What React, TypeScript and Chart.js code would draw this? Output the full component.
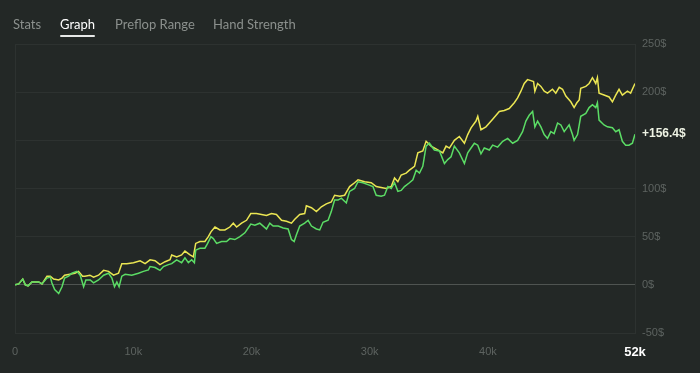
import { useEffect, useRef } from 'react';
import { Chart, registerables } from 'chart.js';

Chart.register(...registerables);

// hands played, in thousands
const greenHands = [0, 0.31, 0.65, 0.87, 1.10, 1.43, 2.00, 2.28, 2.70, 2.98, 3.12, 3.35, 3.69, 3.97, 4.19, 4.53, 4.81, 5.23, 5.51, 5.80, 5.99, 6.36, 6.64, 7.06, 7.49, 7.91, 8.19, 8.41, 8.61, 8.80, 9.03, 9.31, 9.87, 10.44, 10.86, 11.28, 11.42, 11.84, 12.26, 12.55, 12.97, 13.25, 13.67, 14.09, 14.37, 14.66, 14.94, 15.17, 15.28, 15.64, 16.06, 16.29, 16.57, 16.77, 17.05, 17.47, 17.89, 18.17, 18.59, 19.02, 19.44, 19.72, 19.94, 20.28, 20.70, 20.99, 21.27, 21.55, 21.83, 22.26, 22.68, 23.10, 23.38, 23.61, 23.80, 24.08, 24.50, 24.79, 25.07, 25.49, 25.77, 26.05, 26.48, 26.75, 27.03, 27.32, 27.60, 28.02, 28.30, 28.72, 29.01, 29.43, 29.85, 30.27, 30.55, 30.97, 31.25, 31.54, 31.82, 32.10, 32.38, 32.66, 32.94, 33.36, 33.65, 33.93, 34.21, 34.49, 34.77, 35.05, 35.47, 35.90, 36.32, 36.60, 36.88, 37.16, 37.58, 38.01, 38.29, 38.57, 38.85, 39.14, 39.41, 39.69, 40.12, 40.40, 40.82, 41.25, 41.67, 42.09, 42.51, 42.93, 43.21, 43.49, 43.78, 43.97, 44.20, 44.48, 44.76, 45.04, 45.32, 45.60, 45.89, 46.17, 46.45, 46.87, 47.15, 47.29, 47.58, 47.85, 48.28, 48.56, 48.84, 49.12, 49.26, 49.40, 49.82, 50.11, 50.53, 50.81, 51.09, 51.37, 51.65, 51.93, 52.22, 52.44];
const greenProfit = [0, 1, 6, 0, -1, 3, 3, 1, 7, 8, 2, -5, -9, -2, 7, 9, 12, 14, 10, -2, 5, 5, 2, 5, 10, 12, 7, -2, 3, -2, 9, 11, 10, 12, 14, 15.5, 19, 18, 15, 19, 21, 22, 26, 23, 28, 23, 26, 23, 36, 38, 38, 43, 50, 48, 43, 45, 45, 48, 47, 50, 54, 59, 63, 62, 64, 61, 58, 64, 61, 61, 59, 58, 47, 45, 52, 61, 64, 67, 61, 58, 57, 65, 67, 76, 88, 88, 90, 85, 97, 100, 107, 106, 104, 102, 93, 92, 93, 102, 100, 106, 97, 98, 102, 106, 109, 119, 116, 123, 144, 147, 140, 139, 126, 130, 133, 144, 137, 126, 137, 142, 147, 145, 136, 142, 140, 145, 143, 149, 152, 147, 150, 159, 170, 176, 180, 164, 170, 164, 156, 152, 159, 157, 168, 166, 159, 166, 156, 150, 156, 175, 178, 184, 187, 184, 189, 171, 166, 164, 163, 159, 161, 149, 145, 145, 147, 156.4];

const yellowHands = [0, 0.31, 0.65, 0.87, 1.10, 1.43, 2.00, 2.28, 2.70, 2.98, 3.26, 3.69, 3.97, 4.19, 4.64, 5.06, 5.37, 5.71, 5.91, 6.33, 6.64, 7.06, 7.49, 7.91, 8.33, 8.75, 9.03, 9.45, 10.02, 10.58, 11.00, 11.42, 11.84, 12.26, 12.69, 13.11, 13.25, 13.67, 14.09, 14.37, 14.80, 15.08, 15.28, 15.64, 16.06, 16.35, 16.57, 16.91, 17.33, 17.75, 18.17, 18.46, 18.74, 19.16, 19.58, 19.94, 20.42, 20.85, 21.27, 21.69, 22.11, 22.54, 22.96, 23.38, 23.66, 24.08, 24.50, 24.64, 25.07, 25.49, 25.91, 26.33, 26.75, 27.03, 27.46, 27.88, 28.30, 28.72, 29.01, 29.57, 30.13, 30.55, 30.97, 31.39, 31.82, 32.10, 32.38, 32.66, 33.08, 33.36, 33.79, 34.07, 34.49, 34.77, 35.19, 35.76, 36.18, 36.46, 36.74, 37.16, 37.58, 38.01, 38.29, 38.57, 38.99, 39.14, 39.41, 39.83, 40.12, 40.40, 40.96, 41.38, 41.80, 42.23, 42.51, 42.79, 43.07, 43.35, 43.63, 43.86, 43.97, 44.20, 44.48, 44.76, 45.04, 45.46, 45.74, 46.03, 46.31, 46.59, 47.01, 47.29, 47.52, 47.72, 47.85, 48.28, 48.56, 48.84, 49.12, 49.26, 49.40, 49.82, 50.25, 50.53, 50.81, 51.09, 51.37, 51.80, 52.07, 52.44];
const yellowProfit = [0, 1, 6, 0, -1, 3, 3, 1, 9, 9, 6, 5, 7, 10, 11, 12, 14, 9, 9, 10, 8, 10, 15, 14, 10, 12, 22, 22, 23, 25, 22, 26, 25, 21, 24, 26, 31, 29, 31, 35, 31, 29, 43, 45, 45, 50, 55, 60, 57, 57, 60, 64, 60, 64, 67, 74, 74, 73, 72, 74, 73, 67, 66, 64, 68, 73, 74, 82, 80, 76, 81, 84, 86, 93, 92, 93, 102, 106, 109, 107, 106, 102, 101, 100, 102, 111, 107, 114, 116, 119, 123, 137, 139, 149, 144, 140, 137, 144, 142, 150, 154, 147, 156, 163, 170, 175, 161, 164, 168, 172, 180, 181, 183, 189, 194, 201, 209, 213, 212, 211, 201, 209, 206, 201, 199, 203, 199, 205, 203, 196, 190, 184, 189, 192, 204, 206, 209, 215, 209, 215, 199, 197, 195, 190, 197, 203, 197, 201, 199, 209];

const xTickValues = [0, 10, 20, 30, 40];
const yMin = -50;
const yMax = 250;
const yStep = 50;
const tabs = ['Stats', 'Graph', 'Preflop Range', 'Hand Strength'];
const activeTab = 'Graph';

const BG = '#232826';
const GRID = '#2d3230';
const ZERO = '#4f5451';
const TICK = '#5d6360';
const GREEN = '#5bdc65';
const YELLOW = '#ebe653';

const tabLeft = [13, 60, 115, 213];

export default function App() {
  const ref = useRef<HTMLCanvasElement | null>(null);

  useEffect(() => {
    const canvas = ref.current;
    if (!canvas) return;
    const xMax = greenHands[greenHands.length - 1];
    const lastValue = greenProfit[greenProfit.length - 1];

    const endLabel = {
      id: 'endLabel',
      afterDraw(chart: any) {
        const meta = chart.getDatasetMeta(0);
        const pt = meta.data[meta.data.length - 1];
        const c = chart.ctx;
        c.save();
        c.font = 'bold 12px "Liberation Sans", Arial, sans-serif';
        c.fillStyle = '#eef3e4';
        c.textAlign = 'left';
        c.textBaseline = 'middle';
        c.fillText('+' + lastValue.toFixed(1) + '$', chart.chartArea.right + 7, pt.y);
        c.restore();
      },
    };

    const chart = new Chart(canvas, {
      type: 'line',
      data: {
        datasets: [
          {
            label: 'Net',
            data: greenHands.map((h, i) => ({ x: h, y: greenProfit[i] })),
            borderColor: GREEN,
            borderWidth: 1.5,
            pointRadius: 0,
            tension: 0,
          },
          {
            label: 'EV',
            data: yellowHands.map((h, i) => ({ x: h, y: yellowProfit[i] })),
            borderColor: YELLOW,
            borderWidth: 1.5,
            pointRadius: 0,
            tension: 0,
          },
        ],
      },
      options: {
        animation: false,
        responsive: false,
        maintainAspectRatio: false,
        layout: { padding: { left: 13, top: 44, right: 0, bottom: 0 } },
        plugins: { legend: { display: false }, tooltip: { enabled: false } },
        scales: {
          x: {
            type: 'linear',
            min: 0,
            max: xMax,
            afterBuildTicks: (s: any) => {
              s.ticks = [...xTickValues, xMax].map((v) => ({ value: v }));
            },
            afterFit: (s: any) => {
              s.height = 40;
            },
            grid: {
              drawTicks: false,
              color: (ctx: any) => (ctx.tick && ctx.tick.value === 0 ? GRID : 'rgba(0,0,0,0)'),
            },
            border: { color: GRID },
            ticks: {
              autoSkip: false,
              maxRotation: 0,
              padding: 12,
              color: (ctx: any) => (ctx.tick && ctx.tick.value === xMax ? '#ffffff' : TICK),
              font: (ctx: any) =>
                ctx.tick && ctx.tick.value === xMax
                  ? { family: '"Liberation Sans", Arial, sans-serif', size: 13, weight: 'bold' }
                  : { family: '"Liberation Sans", Arial, sans-serif', size: 11 },
              callback: (v: any) => {
                const n = Number(v);
                if (n === xMax) return Math.floor(n) + 'k';
                return n === 0 ? '0' : n + 'k';
              },
            },
          },
          y: {
            position: 'right',
            min: yMin,
            max: yMax,
            afterFit: (s: any) => {
              s.width = 65;
            },
            grid: {
              drawTicks: false,
              color: (ctx: any) => (ctx.tick && ctx.tick.value === 0 ? ZERO : GRID),
            },
            border: { color: GRID },
            ticks: {
              stepSize: yStep,
              padding: 7,
              color: TICK,
              font: { family: '"Liberation Sans", Arial, sans-serif', size: 11 },
              callback: (v: any) => (Math.abs(Number(v) - lastValue) < 15 ? '' : v + '$'),
            },
          },
        },
      },
      plugins: [endLabel],
    });
    return () => chart.destroy();
  }, []);

  return (
    <div style={{ position: 'relative', width: 700, height: 373, background: BG, overflow: 'hidden' }}>
      <style>{`body{margin:0;background:${BG};}`}</style>
      <canvas ref={ref} width={700} height={373} style={{ position: 'absolute', left: 0, top: 0 }} />
      {tabs.map((t, i) => (
        <div
          key={t}
          style={{
            position: 'absolute',
            left: tabLeft[i],
            top: 15,
            fontFamily: 'Lato, "Open Sans", sans-serif',
            fontSize: 13,
            lineHeight: '18px',
            color: t === activeTab ? '#ffffff' : '#8b908d',
            whiteSpace: 'nowrap',
          }}
        >
          {t}
          {t === activeTab && (
            <div style={{ position: 'absolute', left: 0, right: 0, top: 20, height: 2, background: '#e6e8e7', borderRadius: 1 }} />
          )}
        </div>
      ))}
    </div>
  );
}
